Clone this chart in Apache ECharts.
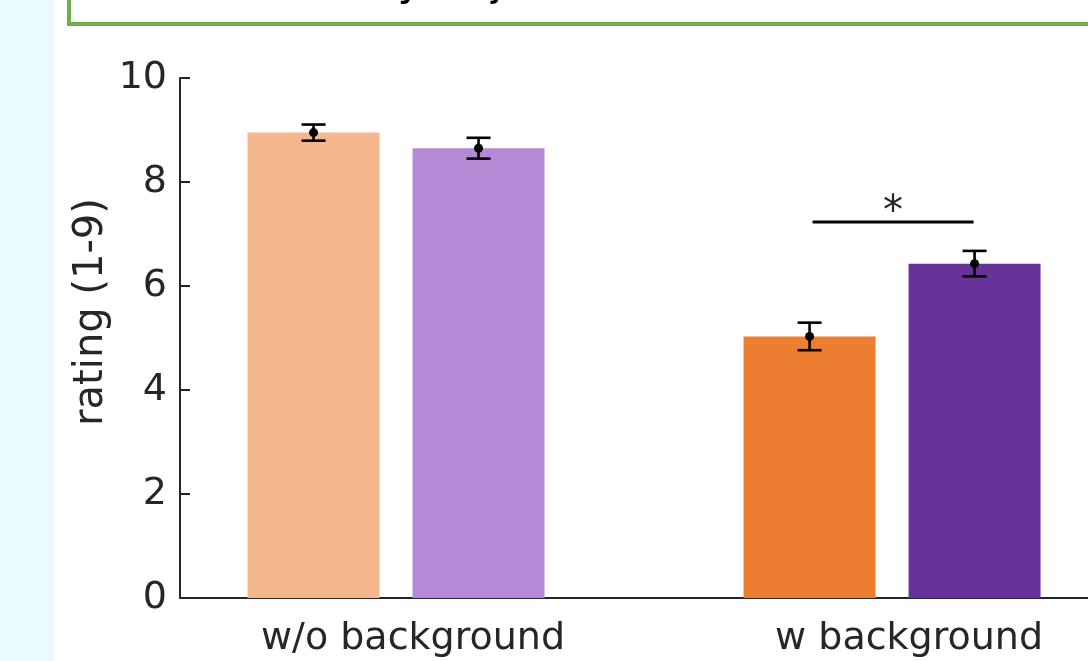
<!DOCTYPE html>
<html>
<head>
<meta charset="utf-8">
<script src="https://cdn.jsdelivr.net/npm/echarts@6/dist/echarts.min.js"></script>
<style>
html,body{margin:0;padding:0;background:#fff;}
#chart{width:1088px;height:661px;}
</style>
</head>
<body>
<div id="chart"></div>
<script>
// ---- data ----
const categories = ['w/o background', 'w background'];
const groupX = [1, 2];
const seriesNames = ['condition 1', 'condition 2'];
const valuesA = [8.95, 5.03];
const valuesB = [8.65, 6.43];
const errA = [0.155, 0.265];
const errB = [0.2, 0.245];
const sigGroup = 2;
const sigY = 7.23;
const sigLabel = '*';
const yAxisTitle = 'rating (1-9)';
const yTickInterval = 2;
const yMin = 0, yMax = 10;
const xMin = 0.5645, xMax = 2.395;

// ---- styles ----
const colorsA = ['#F5B78E', '#ED7D31'];
const colorsB = ['#B48AD7', '#673398'];
const textColor = '#262626';
const font = 'DejaVu Sans';
const BAR_W = 132;
const GAP = 0.25;
const OFF = (BAR_W + BAR_W * GAP) / 2;

const chart = echarts.init(document.getElementById('chart'), null, {renderer: 'canvas'});

function barData(vals, cols) {
  return vals.map((v, i) => ({value: [groupX[i], v], itemStyle: {color: cols[i]}}));
}
function errData(vals, errs) {
  return vals.map((v, i) => [groupX[i], v, errs[i]]);
}
function errRender(offset) {
  return function (params, api) {
    const x = api.value(0), m = api.value(1), e = api.value(2);
    const c = api.coord([x, m]);
    const t = api.coord([x, m + e]);
    const b = api.coord([x, m - e]);
    const cx = c[0] + offset;
    const st = {stroke: '#000', lineWidth: 2.6};
    return {
      type: 'group',
      children: [
        {type: 'line', shape: {x1: cx, y1: t[1], x2: cx, y2: b[1]}, style: st},
        {type: 'line', shape: {x1: cx - 12, y1: t[1], x2: cx + 12, y2: t[1]}, style: st},
        {type: 'line', shape: {x1: cx - 12, y1: b[1], x2: cx + 12, y2: b[1]}, style: st},
        {type: 'circle', shape: {cx: cx, cy: c[1], r: 4.5}, style: {fill: '#000'}}
      ]
    };
  };
}

const option = {
  backgroundColor: '#fff',
  animation: false,
  grid: {left: 180, top: 78, bottom: 63, right: 0, containLabel: false},
  xAxis: {
    type: 'value',
    min: xMin,
    max: xMax,
    splitLine: {show: false},
    axisLine: {show: true, lineStyle: {color: textColor, width: 2}},
    axisTick: {show: false},
    axisLabel: {
      customValues: groupX,
      formatter: function (v) { const i = groupX.indexOf(v); return i >= 0 ? categories[i] : ''; },
      color: textColor, fontFamily: font, fontSize: 38, margin: 22,
      padding: [0, 0, 0, 34]
    }
  },
  yAxis: {
    type: 'value',
    min: yMin, max: yMax, interval: yTickInterval,
    splitLine: {show: false},
    axisLine: {show: true, lineStyle: {color: textColor, width: 2}},
    axisTick: {show: true, inside: true, length: 10, lineStyle: {color: textColor, width: 2}},
    axisLabel: {color: textColor, fontFamily: font, fontSize: 38, margin: 13}
  },
  graphic: [
    {type: 'rect', z: -10, shape: {x: 0, y: 0, width: 54, height: 661}, style: {fill: '#EAFAFD'}},
    {type: 'rect', z: -10, shape: {x: 69, y: -60, width: 2000, height: 84}, style: {fill: 'none', stroke: '#72AE48', lineWidth: 4}},
    {type: 'text', z: -9, x: 410, y: 5, style: {text: 'y', fill: '#000', font: '42px "DejaVu Sans"', align: 'center', verticalAlign: 'bottom'}},
    {type: 'text', z: -9, x: 497, y: 5, style: {text: 'j', fill: '#000', font: '42px "DejaVu Sans"', align: 'center', verticalAlign: 'bottom'}},
    {type: 'text', x: 92, y: 312, rotation: Math.PI / 2,
      style: {text: yAxisTitle, fill: textColor, font: '40px "DejaVu Sans"', align: 'center', verticalAlign: 'middle'}}
  ],
  series: [
    {name: seriesNames[0], type: 'bar', barWidth: BAR_W, barGap: (GAP * 100) + '%', data: barData(valuesA, colorsA)},
    {name: seriesNames[1], type: 'bar', barWidth: BAR_W, barGap: (GAP * 100) + '%', data: barData(valuesB, colorsB)},
    {type: 'custom', z: 5, renderItem: errRender(-OFF), data: errData(valuesA, errA)},
    {type: 'custom', z: 5, renderItem: errRender(OFF), data: errData(valuesB, errB)},
    {
      type: 'custom', z: 5, data: [[sigGroup, sigY]],
      renderItem: function (params, api) {
        const c = api.coord([api.value(0), api.value(1)]);
        return {
          type: 'group',
          children: [
            {type: 'line', shape: {x1: c[0] - OFF + 3, y1: c[1], x2: c[0] + OFF - 1, y2: c[1]}, style: {stroke: '#000', lineWidth: 3}},
            {type: 'text', x: c[0] + 1, y: c[1] + 12, style: {text: sigLabel, fill: textColor, font: '40px "DejaVu Sans"', align: 'center', verticalAlign: 'bottom'}}
          ]
        };
      }
    }
  ]
};
chart.setOption(option);
</script>
</body>
</html>
